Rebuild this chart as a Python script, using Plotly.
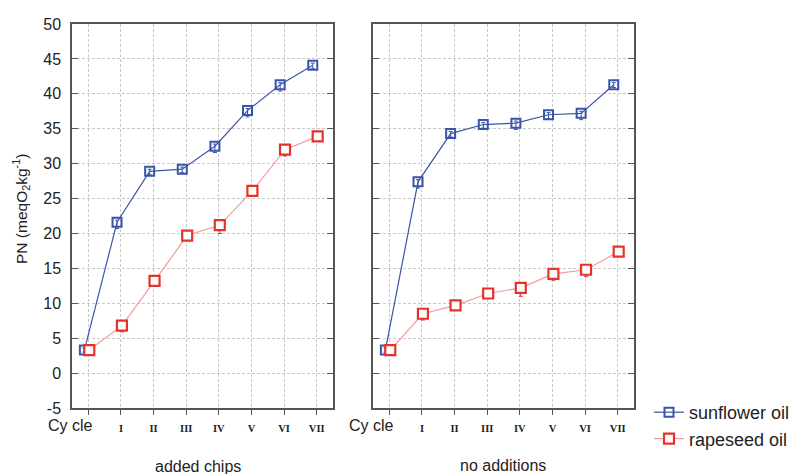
import plotly.graph_objects as go

cycles = ["Cycle", "I", "II", "III", "IV", "V", "VI", "VII"]
y_ticks = [-5, 0, 5, 10, 15, 20, 25, 30, 35, 40, 45, 50]

chips_sunflower = [3.3, 21.6, 28.9, 29.2, 32.5, 37.6, 41.3, 44.1]
chips_rapeseed = [3.3, 6.8, 13.2, 19.7, 21.2, 26.1, 32.0, 33.9]
chips_sunflower_err = [0.3, 0.9, 0.5, 0.5, 0.9, 0.9, 0.9, 0.5]
chips_rapeseed_err = [0.3, 0.9, 0.5, 0.5, 1.2, 0.8, 0.9, 0.4]

none_sunflower = [3.3, 27.4, 34.3, 35.6, 35.8, 37.0, 37.2, 41.3]
none_rapeseed = [3.3, 8.5, 9.7, 11.4, 12.2, 14.2, 14.8, 17.4]
none_sunflower_err = [0.3, 0.9, 0.5, 0.5, 0.9, 0.6, 0.9, 0.4]
none_rapeseed_err = [0.3, 0.9, 0.4, 0.4, 1.2, 0.9, 1.0, 0.4]

panel_titles = ["added chips", "no additions"]
series_names = ["sunflower oil", "rapeseed oil"]

BLUE = "#3a55a8"
RED_LINE = "#f49a9a"
RED = "#e6332a"
GRID = "#c8c8c8"
FRAME = "#555555"
TXT = "#222222"
FONT = "Liberation Sans, Arial, sans-serif"

idx = list(range(len(cycles)))
sun_x = [i - 0.12 for i in idx]
rap_x = [i + 0.03 for i in idx]

fig = go.Figure()

panels = [
    (chips_sunflower, chips_sunflower_err, chips_rapeseed, chips_rapeseed_err, "x", "y"),
    (none_sunflower, none_sunflower_err, none_rapeseed, none_rapeseed_err, "x2", "y2"),
]
for k, (sv, se, rv, re_, xa, ya) in enumerate(panels):
    fig.add_trace(go.Scatter(
        x=sun_x, y=sv, name=series_names[0], mode="lines+markers",
        line=dict(color=BLUE, width=1.2),
        marker=dict(symbol="square-open", size=9, color=BLUE, line=dict(width=2, color=BLUE)),
        error_y=dict(type="data", symmetric=False, array=[0.3] * len(se), arrayminus=se,
                     color=BLUE, thickness=1, width=2),
        xaxis=xa, yaxis=ya, showlegend=(k == 0), legendrank=1,
    ))
    fig.add_trace(go.Scatter(
        x=rap_x, y=rv, name=series_names[1], mode="lines+markers",
        line=dict(color=RED_LINE, width=1.2),
        marker=dict(symbol="square", size=10, color="white", line=dict(width=2.2, color=RED)),
        error_y=dict(type="data", symmetric=False, array=[0.3] * len(re_), arrayminus=re_,
                     color=RED, thickness=1, width=2),
        xaxis=xa, yaxis=ya, showlegend=(k == 0), legendrank=2,
    ))

ticktext = []
for c in cycles:
    if c == "Cycle":
        ticktext.append("")
    else:
        ticktext.append('<span style="font-family:Liberation Serif, Times New Roman, serif;font-size:10.5px"><b>%s</b></span>' % c)

W, H = 811, 474
ydom = [(H - 408) / H, (H - 24) / H]
xdom1 = [72 / W, 333 / W]
xdom2 = [373 / W, 634 / W]

xcommon = dict(
    range=[-0.5, 7.5], tickmode="array", tickvals=idx, ticktext=ticktext,
    ticks="outside", ticklen=5, tickcolor=FRAME, tickwidth=1,
    showline=True, linecolor=FRAME, linewidth=1.5, mirror=True,
    showgrid=True, gridcolor=GRID, griddash="3px,2px", gridwidth=1,
    zeroline=False, tickfont=dict(family=FONT, size=14, color=TXT),
    automargin=False,
)
ycommon = dict(
    range=[-5, 50], tickmode="array", tickvals=y_ticks, ticktext=[str(v) for v in y_ticks],
    ticks="inside", ticklen=6, tickcolor=FRAME, tickwidth=1,
    showline=True, linecolor=FRAME, linewidth=1.5, mirror="ticks",
    showgrid=True, gridcolor=GRID, griddash="3px,2px", gridwidth=1,
    zeroline=False, tickfont=dict(family=FONT, size=16, color=TXT),
    automargin=False, ticklabelstandoff=6,
)

fig.update_layout(
    width=W, height=H,
    margin=dict(l=0, r=0, t=0, b=0),
    paper_bgcolor="white", plot_bgcolor="white",
    xaxis=dict(domain=xdom1, anchor="y", **xcommon),
    yaxis=dict(domain=ydom, anchor="x", showticklabels=True, **ycommon),
    xaxis2=dict(domain=xdom2, anchor="y2", **xcommon),
    yaxis2=dict(domain=ydom, anchor="x2", showticklabels=False, **ycommon),
    xaxis3=dict(domain=xdom1, anchor="y", overlaying="x", side="top", range=[-0.5, 7.5],
                tickmode="array", tickvals=idx, ticks="inside", ticklen=5, tickcolor=FRAME,
                showticklabels=False, showgrid=False, showline=False, zeroline=False),
    xaxis4=dict(domain=xdom2, anchor="y2", overlaying="x2", side="top", range=[-0.5, 7.5],
                tickmode="array", tickvals=idx, ticks="inside", ticklen=5, tickcolor=FRAME,
                showticklabels=False, showgrid=False, showline=False, zeroline=False),
    legend=dict(x=649 / W, y=(H - 394) / H, xanchor="left", yanchor="top",
                font=dict(family=FONT, size=18, color=TXT),
                bgcolor="rgba(0,0,0,0)", tracegroupgap=0, itemwidth=30),
    font=dict(family=FONT),
)

def note(text, px, py, size, angle=0):
    fig.add_annotation(text=text, textangle=angle, x=px / W, y=(H - py) / H,
                       xref="paper", yref="paper", xanchor="center", yanchor="middle",
                       showarrow=False, font=dict(family=FONT, size=size, color=TXT))

note("PN (meqO<sub>2</sub>kg<sup>-1</sup>)", 21, 209, 15.5, -90)
for cx in (70, 371):
    note("Cy cle", cx, 425, 16)
note(panel_titles[0], 198, 466, 16)
note(panel_titles[1], 503, 465, 16)

fig.write_html("out.html", config={"displayModeBar": False},
               post_script="document.body.style.margin='0px';")
